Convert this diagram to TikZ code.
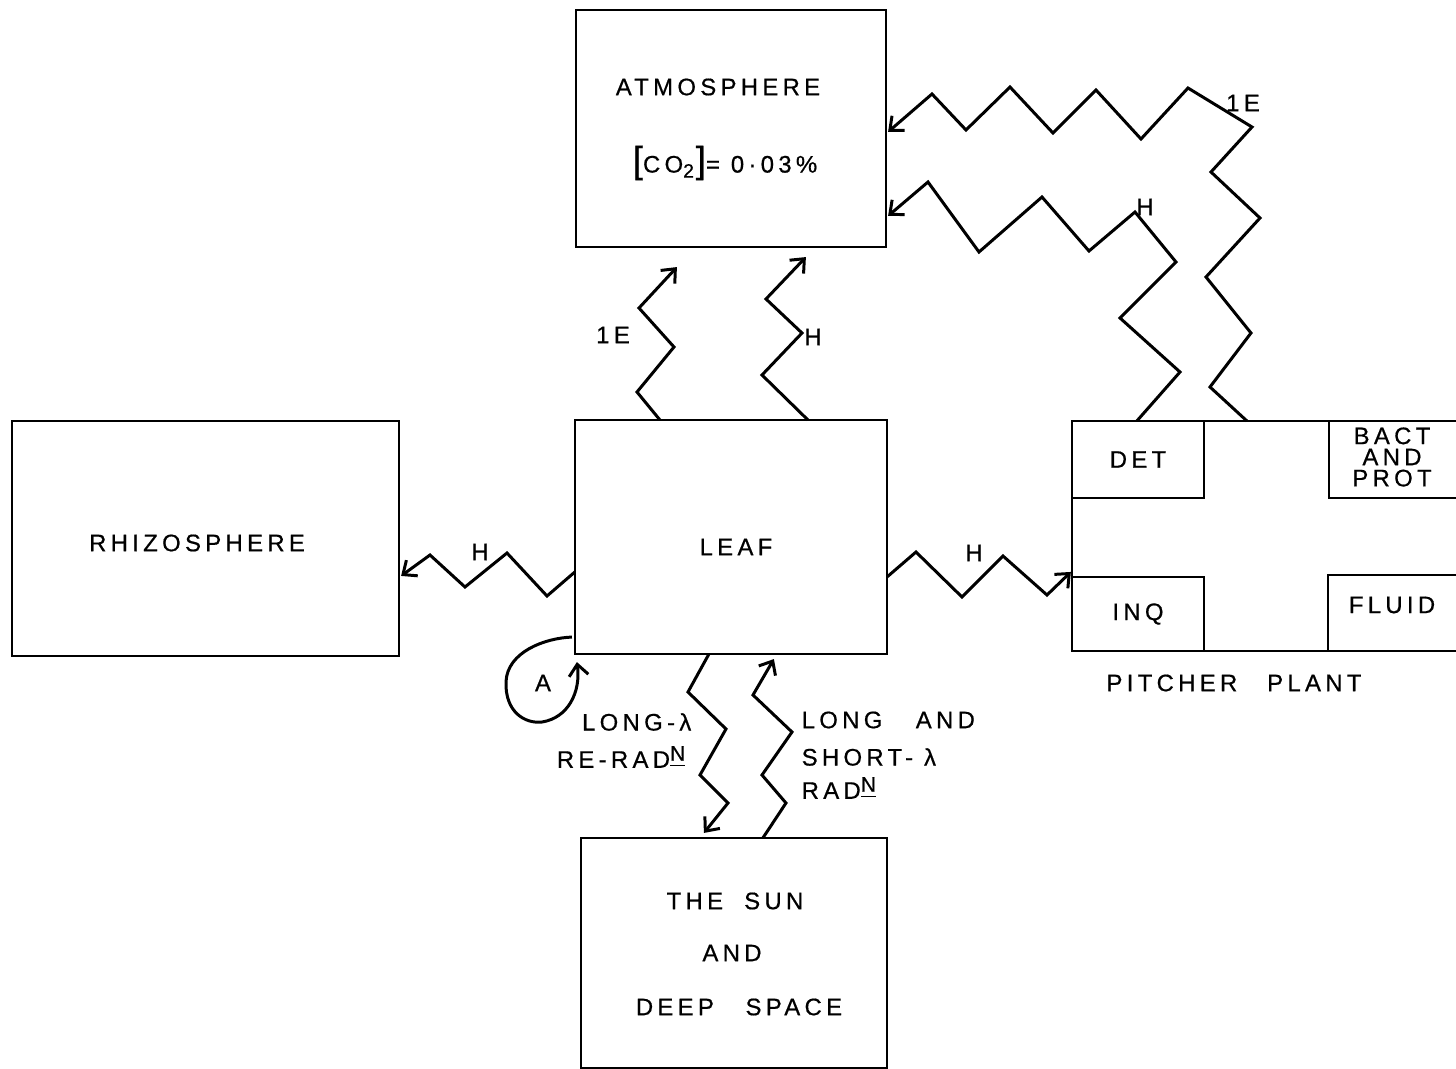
\documentclass[tikz,border=0pt]{standalone}
\usepackage{fontspec}
\setmainfont{Liberation Sans}[LetterSpace=18,FakeBold=0.6]
\usetikzlibrary{arrows.meta,calc}
\begin{document}
\begin{tikzpicture}[x=0.01cm,y=-0.01cm,
  box/.style={draw,rectangle,line width=0.75pt,inner sep=0pt,outer sep=0pt},
  hold/.style={rectangle,inner sep=0pt,outer sep=0pt},
  edge/.style={line width=0.75pt},
  lbl/.style={font=\fontsize{6.8pt}{8pt}\selectfont,inner sep=0pt},
  wave/.style={line width=0.85pt,line join=miter,-{Straight Barb[length=3.2pt,width=5.5pt]}},
  loopar/.style={line width=0.85pt,-{Straight Barb[length=3.2pt,width=5.5pt]}}]
\useasboundingbox (0,0) rectangle (1456,1069);

% boxes
\node[box,minimum width=3.10cm,minimum height=2.37cm] (atm) at (731,128.5) {};
\node[box,minimum width=3.12cm,minimum height=2.34cm] (leaf) at (731,537) {};
\node[box,minimum width=3.87cm,minimum height=2.35cm] (rhizo) at (205.5,538.5) {};
\node[box,minimum width=3.06cm,minimum height=2.30cm] (sun) at (734,953) {};
\node[hold,minimum width=3.84cm,minimum height=2.30cm] (pitcher) at (1264,536) {};
\draw[edge] (pitcher.north east) -- (pitcher.north west) -- (pitcher.south west) -- (pitcher.south east);
\node[box,lbl,minimum width=1.32cm,minimum height=0.77cm] (det) at (1138,459.5) {DET};
\node[box,lbl,minimum width=1.32cm,minimum height=0.74cm] (inq) at (1138,614) {INQ};
\node[hold,minimum width=1.27cm,minimum height=0.77cm] (bact) at (1392.5,459.5) {};
\draw[edge] (bact.north west) -- (bact.south west) -- (bact.south east);
\node[hold,minimum width=1.28cm,minimum height=0.76cm] (fluid) at (1392,613) {};
\draw[edge] (fluid.south west) -- (fluid.north west) -- (fluid.north east);

% texts
\node[lbl] (tatm) at (718,87) {ATMOSPHERE};
\node[lbl] (tco) at (725,163) {{\fontsize{10.5pt}{10pt}\selectfont[}CO\textsubscript{\fontsize{5.5pt}{6pt}\selectfont 2}{\fontsize{10.5pt}{10pt}\selectfont]}= 0·03\%};
\node[lbl] (trhizo) at (197,543) {RHIZOSPHERE};
\node[lbl] (tleaf) at (736,547) {LEAF};
\node[lbl] (tsun1) at (735,901) {THE\hspace{6pt}SUN};
\node[lbl] (tsun2) at (732,953) {AND};
\node[lbl] (tsun3) at (739,1007) {DEEP\hspace{9pt}SPACE};
\node[lbl,align=center,font=\fontsize{6.8pt}{6pt}\selectfont] (tbact) at (1392,457) {BACT\\AND\\PROT};
\node[lbl] (tfluid) at (1392,605) {FLUID};
\node[lbl] (tpitch) at (1234,683) {PITCHER\hspace{8.5pt}PLANT};
\node[lbl] (le1) at (1243,103) {1E};
\node[lbl] (lh1) at (1145,207) {H};
\node[lbl] (le2) at (613,335) {1E};
\node[lbl] (lh2) at (813,337) {H};
\node[lbl] (lh3) at (480,552) {H};
\node[lbl] (lh4) at (974,553) {H};
\node[lbl] (la) at (543,683) {A};
\node[lbl,anchor=east] (tlong1) at (692,722) {LONG-λ};
\node[lbl,anchor=east] (tlong2) at (686,757) {RE-RAD\raisebox{2pt}{\fontsize{6pt}{6pt}\selectfont\underline{N}}};
\node[lbl,anchor=west] (tls1) at (801,720) {LONG\hspace{9.5pt}AND};
\node[lbl,anchor=west] (tls2) at (801,757) {SHORT- λ};
\node[lbl,anchor=west] (tls3) at (801,788) {RAD\raisebox{2pt}{\fontsize{6pt}{6pt}\selectfont\underline{N}}};

% zigzag connectors
\coordinate (z1s) at ($(pitcher.north west)+(175,0)$);
\coordinate (z1e) at ($(atm.north east)+(2,122)$);
\draw[wave] (z1s) -- (1210,387) -- (1251,333) -- (1206,277) -- (1260,218) -- (1211,172) -- (1252,127) -- (1188,88) -- (1141,139) -- (1096,90) -- (1053,133) -- (1010,87) -- (966,130) -- (932,94) -- (z1e);

\coordinate (z2s) at ($(pitcher.north west)+(65,0)$);
\coordinate (z2e) at ($(atm.north east)+(2,206)$);
\draw[wave] (z2s) -- (1180,372) -- (1120,318) -- (1176,262) -- (1135,212) -- (1089,251) -- (1042,197) -- (979,252) -- (928,182) -- (z2e);

\coordinate (z3s) at ($(leaf.north west)+(85,0)$);
\coordinate (z3e) at ($(atm.south west)+(101,20)$);
\draw[wave] (z3s) -- (637,392) -- (674,347) -- (639,308) -- (z3e);

\coordinate (z4s) at ($(leaf.north west)+(233,0)$);
\coordinate (z4e) at ($(atm.south west)+(230,10)$);
\draw[wave] (z4s) -- (762,375) -- (802,333) -- (766,299) -- (z4e);

\coordinate (z5s) at ($(leaf.north west)+(0,152)$);
\coordinate (z5e) at ($(rhizo.north east)+(2,155)$);
\draw[wave] (z5s) -- (547,596) -- (507,553) -- (465,587) -- (430,555) -- (z5e);

\coordinate (z6s) at ($(leaf.north east)+(0,157)$);
\coordinate (z6e) at ($(pitcher.north west)+(-1,151)$);
\draw[wave] (z6s) -- (916,552) -- (962,597) -- (1003,556) -- (1047,595) -- (z6e);

\coordinate (z7s) at ($(leaf.south west)+(134,0)$);
\coordinate (z7e) at ($(sun.north west)+(123,-5)$);
\draw[wave] (z7s) -- (688,692) -- (726,729) -- (700,775) -- (728,803) -- (z7e);

\coordinate (z8s) at ($(sun.north west)+(182,0)$);
\coordinate (z8e) at ($(leaf.south west)+(199,5)$);
\draw[wave] (z8s) -- (786,803) -- (762,775) -- (792,732) -- (753,695) -- (z8e);

% loop A
\coordinate (las) at ($(leaf.south west)+(-3,-17)$);
\coordinate (lae) at ($(leaf.south west)+(2,8)$);
\draw[loopar] (las) .. controls (545,638) and (507,652) .. (506,682) .. controls (505,712) and (525,724) .. (542,722) .. controls (568,718) and (581,692) .. (lae);
\end{tikzpicture}
\end{document}
